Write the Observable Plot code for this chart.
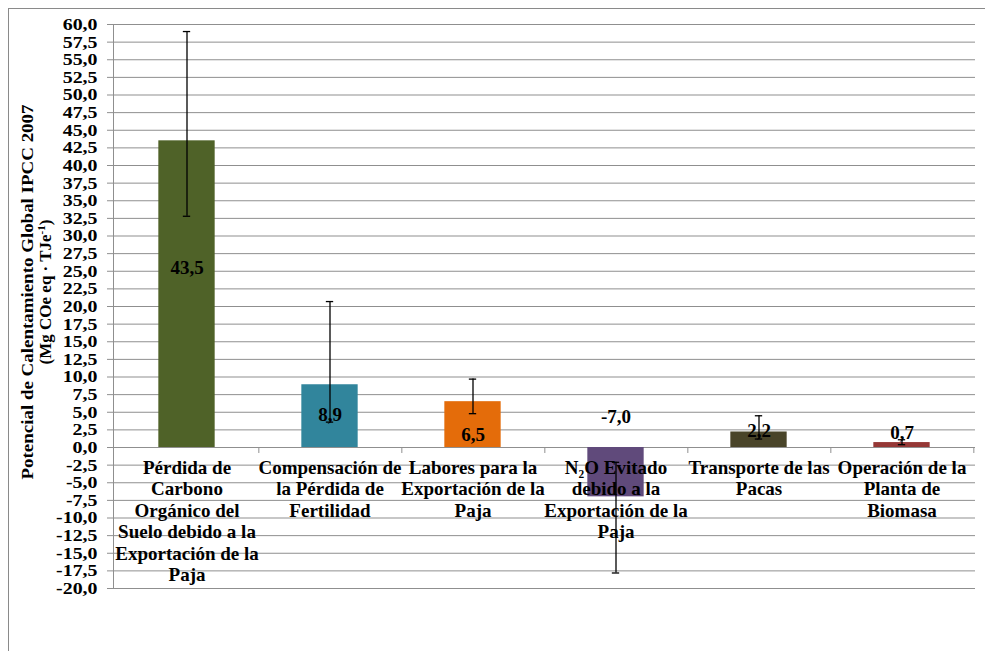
<!DOCTYPE html>
<html><head><meta charset="utf-8">
<script src="https://cdn.jsdelivr.net/npm/d3@7"></script>
<script src="https://cdn.jsdelivr.net/npm/@observablehq/plot@0.6"></script>
<style>
html,body{margin:0;padding:0;background:#fff;overflow:hidden;}
#wrap{position:relative;width:985px;height:651px;}
#border{position:absolute;left:8px;top:8px;width:1200px;height:1200px;border:1px solid #8a8a8a;pointer-events:none;}
#wrap svg{position:absolute;left:0;top:0;}
#wrap svg, #wrap svg text, #wrap svg tspan {font-family: "Liberation Serif", "DejaVu Serif", serif !important; font-weight: bold;}
</style></head><body><div id="wrap"></div>
<script>
const categories = [
  "Pérdida de\nCarbono\nOrgánico del\nSuelo debido a la\nExportación de la\nPaja",
  "Compensación de\nla Pérdida de\nFertilidad",
  "Labores para la\nExportación de la\nPaja",
  "N\u2082O Evitado\ndebido a la\nExportación de la\nPaja",
  "Transporte de las\nPacas",
  "Operación de la\nPlanta de\nBiomasa"
];
const values = [43.5, 8.9, 6.5, -7.0, 2.2, 0.7];
const valueLabels = ["43,5", "8,9", "6,5", "-7,0", "2,2", "0,7"];
const errLow = [32.8, 3.6, 4.8, -17.8, 1.2, 0.4];
const errHigh = [59.0, 20.7, 9.7, -2.1, 4.5, 1.1];
const labelAt = [25.5, 4.6, 1.8, 4.3, 2.3, 2.1];
const barColors = ["#4F6228", "#31859C", "#E46C0A", "#604A7B", "#494429", "#953735"];
const yTicks = [-20, -17.5, -15, -12.5, -10, -7.5, -5, -2.5, 0, 2.5, 5, 7.5, 10, 12.5, 15, 17.5, 20,
  22.5, 25, 27.5, 30, 32.5, 35, 37.5, 40, 42.5, 45, 47.5, 50, 52.5, 55, 57.5, 60];
const yTitle1 = "Potencial de Calentamiento Global IPCC 2007";
const yTitle2 = ["(Mg COe eq · TJe", "-1", ")"];

const data = categories.map((c, i) => ({cat: c, value: values[i], low: errLow[i], high: errHigh[i], lab: valueLabels[i], at: labelAt[i]}));

const W = 985, H = 651, mL = 113, mR = 10, mT = 24, mB = 63;
const band = (W - mL - mR) / categories.length;
const barW = 57;
const grid = "#8f8f8f";
const side = (band - barW) / 2;
const cap = (band - 8) / 2;

const plot = Plot.plot({
  width: W, height: H,
  marginLeft: mL, marginRight: mR, marginTop: mT, marginBottom: mB,
  style: {fontFamily: "Liberation Serif, serif", fontWeight: "bold", fontSize: "18px", background: "transparent", color: "#000", overflow: "visible"},
  x: {domain: categories, padding: 0, axis: null},
  y: {domain: [-20, 60]},
  color: {domain: categories, range: barColors},
  marks: [
    Plot.ruleY(yTicks, {stroke: grid, strokeWidth: 1, insetLeft: -6}),
    Plot.frame({anchor: "left", stroke: grid}),
    Plot.ruleX(categories, {x: d => d, y1: 0, y2: -0.85, dx: band / 2, stroke: grid}),
    Plot.barY(data, {x: "cat", y: "value", fill: "cat", insetLeft: side, insetRight: side}),
    Plot.text(data, {x: "cat", y: 0, text: "cat", lineAnchor: "top", dy: 11, lineHeight: 1.13, fontSize: 19, fill: "#000", className: "catlab"}),
    Plot.text(data, {x: "cat", y: "at", text: "lab", fontSize: 19, fill: "#000", className: "vallab"}),
    Plot.ruleX(data, {x: "cat", y1: "low", y2: "high", stroke: "#000", strokeWidth: 1.3}),
    Plot.tickY(data, {x: "cat", y: "low", stroke: "#000", strokeWidth: 1.3, insetLeft: cap, insetRight: cap}),
    Plot.tickY(data, {x: "cat", y: "high", stroke: "#000", strokeWidth: 1.3, insetLeft: cap, insetRight: cap}),
    Plot.axisY({ticks: yTicks, tickSize: 0, tickPadding: 16, label: null, tickFormat: d => d.toFixed(1).replace(".", ","), fontSize: 17, fontWeight: "bold", fill: "#000", className: "ytl"})
  ]
});

const svg = d3.select(plot);
const cy = 292;
svg.append("text")
  .attr("transform", `translate(27,${cy}) rotate(-90)`)
  .attr("text-anchor", "middle").attr("dy", "0.35em")
  .attr("font-size", 17).attr("fill", "#000")
  .attr("textLength", 375).attr("lengthAdjust", "spacingAndGlyphs")
  .text(yTitle1);
const t2 = svg.append("text")
  .attr("transform", `translate(45,${cy}) rotate(-90)`)
  .attr("text-anchor", "middle").attr("dy", "0.35em")
  .attr("font-size", 17).attr("fill", "#000");
t2.append("tspan").text(yTitle2[0]);
t2.append("tspan").attr("dy", -6).attr("font-size", 11).text(yTitle2[1]);
t2.append("tspan").attr("dy", 6).text(yTitle2[2]);

const wrap = document.getElementById("wrap");
wrap.appendChild(plot);
const b = document.createElement("div"); b.id = "border"; wrap.appendChild(b);

// widen the tick labels horizontally like the original rendering
svg.selectAll(".ytl text").each(function() {
  const len = this.getComputedTextLength();
  this.setAttribute("textLength", (len * 1.17).toFixed(1));
  this.setAttribute("lengthAdjust", "spacingAndGlyphs");
});
</script></body></html>
